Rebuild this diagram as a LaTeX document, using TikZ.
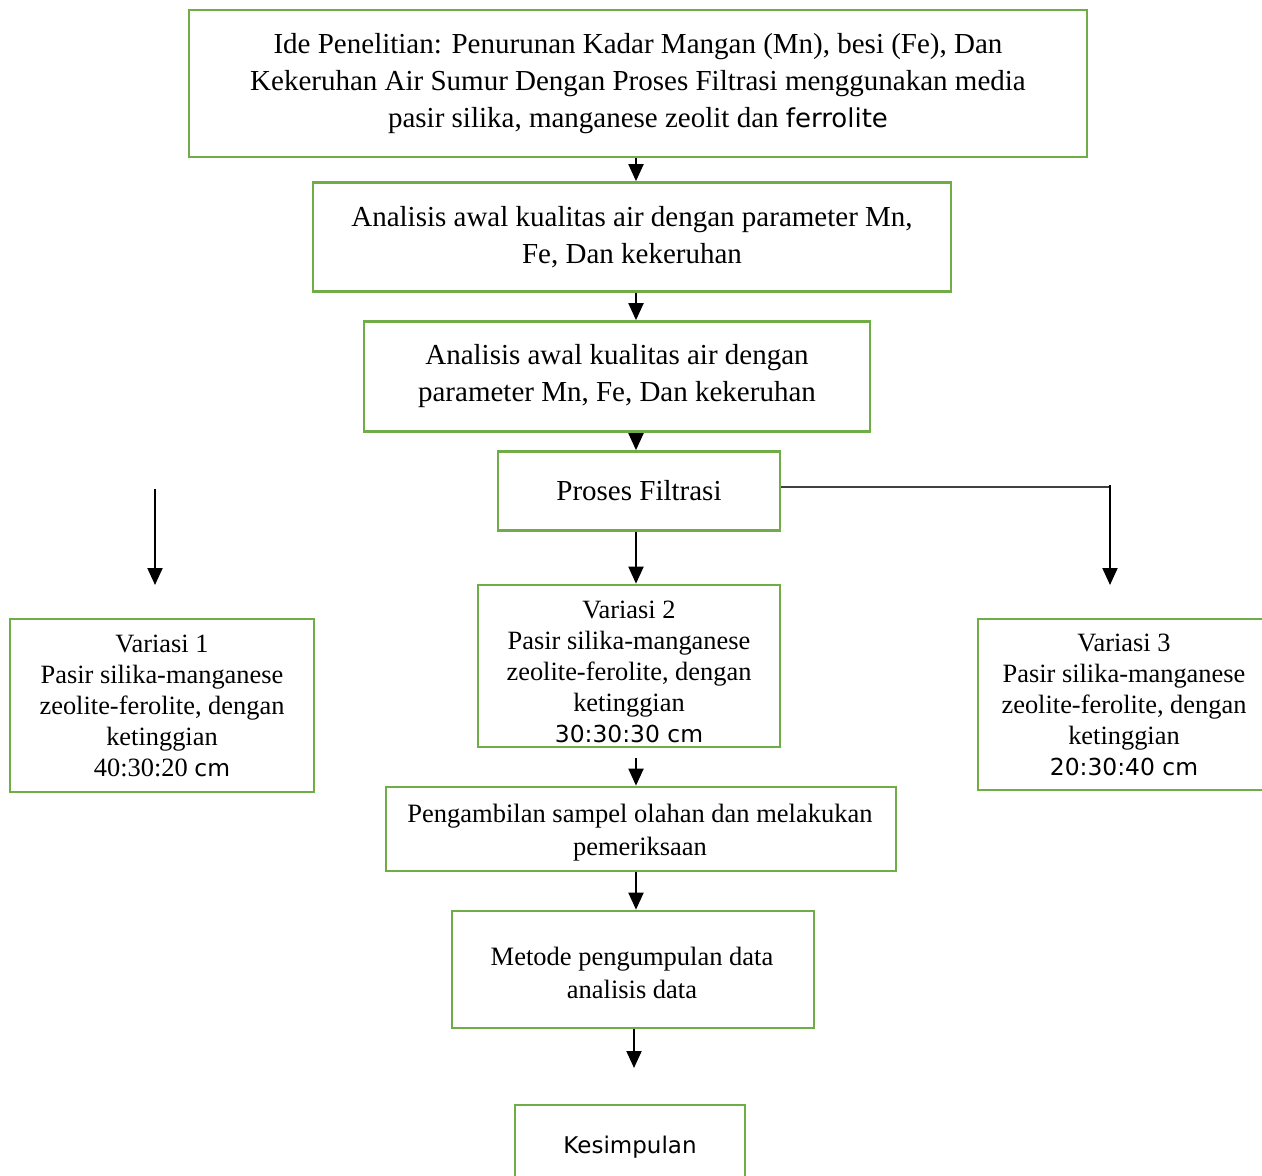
\documentclass[tikz,border=0pt]{standalone}
\usepackage{fontspec}
\setmainfont{Liberation Serif}
\newfontfamily\vsans{DejaVu Sans}
\usetikzlibrary{arrows.meta}
\definecolor{boxgreen}{HTML}{70AD47}
\newcommand{\sanspart}[2]{{\vsans\fontsize{#1}{#1}\selectfont #2}}
\tikzset{
  flowbox/.style={draw=boxgreen, line width=2.7pt, rectangle, align=center, inner sep=0pt, anchor=center},
  plaintext/.style={align=center, inner sep=0pt, anchor=center},
  flowarrow/.style={line width=2pt, -{Triangle[length=17pt,width=15pt]}},
  thinline/.style={line width=1.3pt, draw=black!75},
  fbig/.style={font=\fontsize{29}{37}\selectfont},
  fmid/.style={font=\fontsize{26.5}{33}\selectfont},
  fvar/.style={font=\fontsize{26.4}{31}\selectfont},
}
\begin{document}
\begin{tikzpicture}[x=1pt,y=-1pt]
\useasboundingbox (0,0) rectangle (1262,1176);
\node[flowbox,fbig,minimum width=898pt,minimum height=147pt] (ide) at (638,83.5)
  {Ide Penelitian: Penurunan Kadar Mangan (Mn), besi (Fe), Dan\\
   Kekeruhan Air Sumur Dengan Proses Filtrasi menggunakan media\\
   pasir silika, manganese zeolit dan \sanspart{26}{ferrolite}};
\node[flowbox,fbig,minimum width=638pt,minimum height=109pt] (awal1) at (632,237)
  {Analisis awal kualitas air dengan parameter Mn,\\ Fe, Dan kekeruhan};
\node[flowbox,fbig,minimum width=506pt,minimum height=110pt] (awal2) at (617,376.5)
  {Analisis awal kualitas air dengan\\ parameter Mn, Fe, Dan kekeruhan};
\node[flowbox,fbig,minimum width=282pt,minimum height=79pt] (proses) at (639,491)
  {Proses Filtrasi};
\node[flowbox,minimum width=302pt,minimum height=162pt] (var2) at (629,666) {};
\node[plaintext,fvar] (var2txt) at (629,672)
  {Variasi 2\\ Pasir silika-manganese\\ zeolite-ferolite, dengan\\ ketinggian\\ \sanspart{23.4}{30:30:30 cm}};
\node[flowbox,fvar,minimum width=304pt,minimum height=173pt] (var1) at (162,705.5)
  {Variasi 1\\ Pasir silika-manganese\\ zeolite-ferolite, dengan\\ ketinggian\\ 40:30:20 \sanspart{23.4}{cm}};
\node[flowbox,fvar,minimum width=292pt,minimum height=171pt] (var3) at (1124,704.5)
  {Variasi 3\\ Pasir silika-manganese\\ zeolite-ferolite, dengan\\ ketinggian\\ \sanspart{23.4}{20:30:40 cm}};
\node[flowbox,minimum width=510pt,minimum height=84pt] (ambil) at (641,829) {};
\node[plaintext,fmid] (ambiltxt) at (640,832.5)
  {Pengambilan sampel olahan dan melakukan\\ pemeriksaan};
\node[flowbox,minimum width=362pt,minimum height=117pt] (metode) at (633,969.5) {};
\node[plaintext,fmid] (metodetxt) at (632,972.5)
  {Metode pengumpulan data\\ analisis data};
\node[flowbox,minimum width=230pt,minimum height=84pt,font=\vsans\fontsize{23}{30}\selectfont] (kes) at (630,1147)
  {Kesimpulan};
% connectors
\draw[flowarrow] (ide.south -| 636,0) -- (awal1.north -| 636,0);
\draw[flowarrow] (awal1.south -| 636,0) -- (awal2.north -| 636,0);
\draw[flowarrow] (awal2.south -| 636,0) -- (proses.north -| 636,0);
\draw[flowarrow] (proses.south -| 636,0) -- (var2.north -| 636,0);
\coordinate (lstart) at (155,489);
\coordinate (lend) at (155,585);
\draw[flowarrow] (lstart) -- (lend);
\coordinate (rcorner) at (1110,487);
\coordinate (rend) at (1110,585);
\draw[thinline] (proses.east |- rcorner) -- (rcorner);
\draw[flowarrow] ([yshift=2pt]rcorner) -- (rend);
\coordinate (v2out) at (636,758);
\draw[flowarrow] (v2out) -- (ambil.north -| 636,0);
\draw[flowarrow] (ambil.south -| 636,0) -- (metode.north -| 636,0);
\coordinate (mend) at (634,1068);
\draw[flowarrow] (metode.south -| 634,0) -- (mend);
\end{tikzpicture}
\end{document}
